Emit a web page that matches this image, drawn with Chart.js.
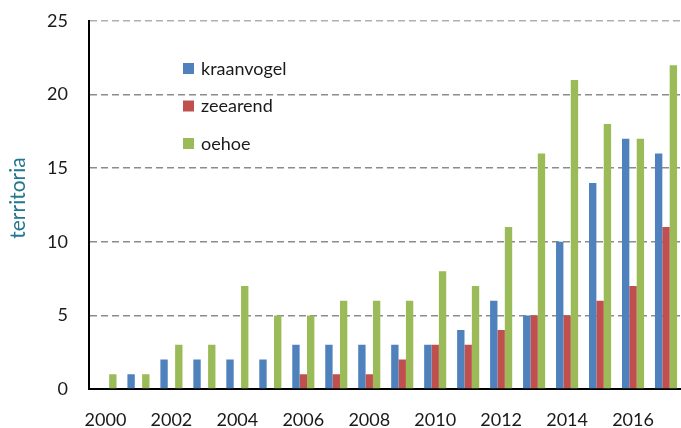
<!DOCTYPE html>
<html>
<head>
<meta charset="utf-8">
<script src="https://cdn.jsdelivr.net/npm/chart.js@4"></script>
<style>
  html, body { margin: 0; padding: 0; background: #fff; overflow: hidden; }
  #wrap { width: 686px; height: 428px; }
</style>
</head>
<body>
<div id="wrap"><canvas id="myChart"></canvas></div>
<script>
// data
const years = ["2000","2001","2002","2003","2004","2005","2006","2007","2008",
  "2009","2010","2011","2012","2013","2014","2015","2016","2017"];
const kraanvogel = [0,1,2,2,2,2,3,3,3,3,3,4,6,5,10,14,17,16];
const zeearend   = [0,0,0,0,0,0,1,1,1,2,3,3,4,5,5,6,7,11];
const oehoe      = [1,1,3,3,7,5,5,6,6,6,8,7,11,16,21,18,17,22];
const yTicks = [0,5,10,15,20,25];

const font = "Lato, 'Open Sans', sans-serif";

// legend inside the plot + rotated axis title, like the original
const extras = {
  id: "extras",
  afterDraw(chart) {
    const ctx = chart.ctx;
    ctx.save();
    ctx.font = "18px " + font;
    ctx.textBaseline = "middle";
    chart.data.datasets.forEach((ds, i) => {
      const y = 69 + i * 37.5;
      ctx.fillStyle = ds.backgroundColor;
      ctx.fillRect(183, y - 6, 11, 11);
      ctx.fillStyle = "#1a1a1a";
      ctx.fillText(ds.label, 201, y);
    });
    ctx.translate(18, 198);
    ctx.rotate(-Math.PI / 2);
    ctx.font = "21px " + font;
    ctx.textAlign = "center";
    ctx.fillStyle = "#24778f";
    ctx.fillText("territoria", 0, 0);
    ctx.restore();
  }
};

const chartRef = document.getElementById("myChart").getContext("2d");
new Chart(chartRef, {
  type: "bar",
  data: {
    labels: years,
    datasets: [
      { label: "kraanvogel", data: kraanvogel, backgroundColor: "#4F81BD" },
      { label: "zeearend", data: zeearend, backgroundColor: "#C0504D" },
      { label: "oehoe", data: oehoe, backgroundColor: "#9BBB59" },
    ],
  },
  options: {
    responsive: true,
    maintainAspectRatio: false,
    animation: false,
    layout: { padding: { top: 21, right: 0, bottom: 0, left: 0 } },
    datasets: { bar: { categoryPercentage: 0.67, barPercentage: 1.0 } },
    plugins: { legend: { display: false }, tooltip: { enabled: false } },
    scales: {
      x: {
        offset: true,
        grid: { display: false, drawTicks: false },
        border: { color: "#000", width: 2 },
        afterFit(scale) { scale.height = 39; },
        ticks: {
          autoSkip: false,
          maxRotation: 0,
          padding: 20,
          color: "#1a1a1a",
          font: { family: font, size: 18 },
          callback(val, i) { return i % 2 === 0 ? years[i] : ""; },
        },
      },
      y: {
        min: 0,
        max: 25,
        afterFit(scale) { scale.width = 89; },
        afterBuildTicks(scale) { scale.ticks = yTicks.map(v => ({ value: v })); },
        grid: {
          drawTicks: true,
          tickLength: 21,
          tickColor: "transparent",
          lineWidth: 1.5,
          color: (c) => (c.tick && c.tick.value === 25 ? "#b0b0b0" : "#8c8c8c"),
        },
        border: { color: "#000", width: 2, dash: [7, 4] },
        ticks: {
          padding: 0,
          color: "#1a1a1a",
          font: { family: font, size: 18 },
        },
      },
    },
  },
  plugins: [extras],
});
</script>
</body>
</html>
